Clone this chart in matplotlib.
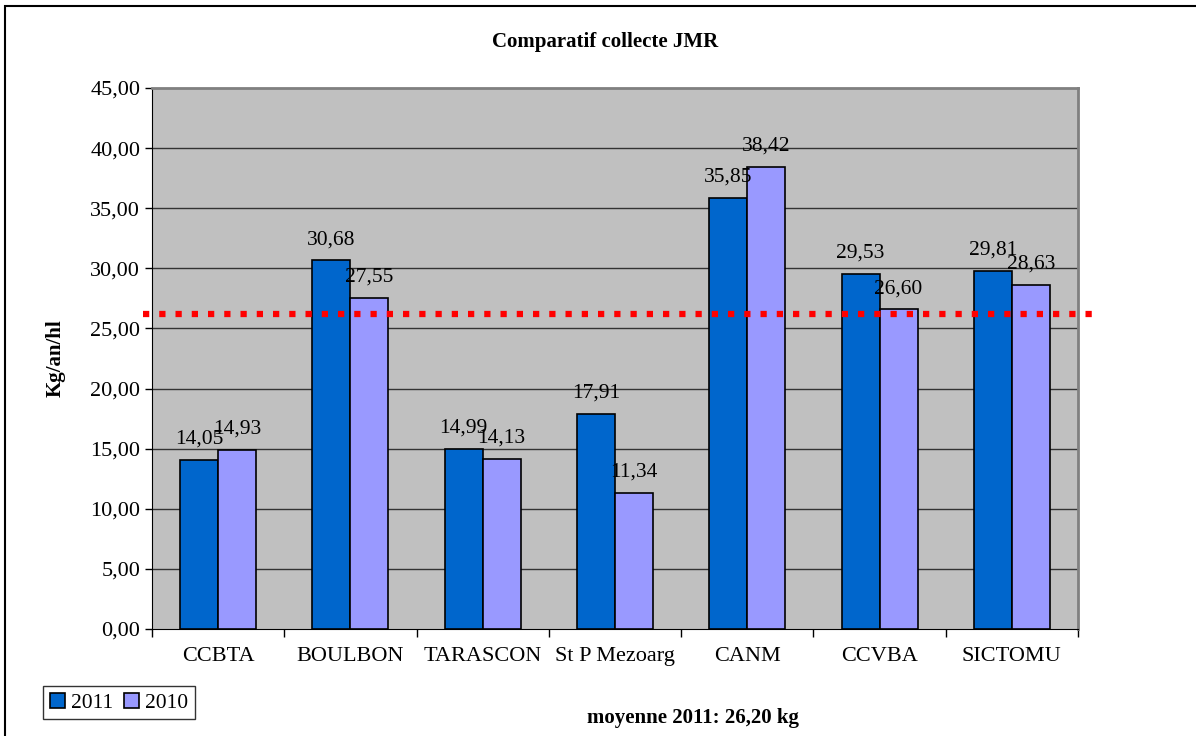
import matplotlib.pyplot as plt
import matplotlib.transforms as mtransforms
from matplotlib.patches import Rectangle
import numpy as np

plt.rcParams['font.family'] = ['Liberation Serif', 'DejaVu Serif']

# donnees du graphique
categories = ['CCBTA', 'BOULBON', 'TARASCON', 'St P Mezoarg', 'CANM', 'CCVBA', 'SICTOMU']
v2011 = [14.05, 30.68, 14.99, 17.91, 35.85, 29.53, 29.81]
v2010 = [14.93, 27.55, 14.13, 11.34, 38.42, 26.60, 28.63]
moyenne = 26.20
yticks = [0, 5, 10, 15, 20, 25, 30, 35, 40, 45]

fig = plt.figure(figsize=(11.96, 7.36), dpi=100)
ax = fig.add_axes([0.1271, 0.1454, 0.7742, 0.735])
ax.set_facecolor('#C0C0C0')

x = np.arange(len(categories))
w = 0.287
b1 = ax.bar(x - w/2, v2011, w, color='#0066CC', edgecolor='black', linewidth=1.2, label='2011', zorder=3)
b2 = ax.bar(x + w/2, v2010, w, color='#9999FF', edgecolor='black', linewidth=1.2, label='2010', zorder=3)

def fmt(v):
    return "{:.2f}".format(v).replace('.', ',')

for bars, vals in [(b1, v2011), (b2, v2010)]:
    for r, v in zip(bars, vals):
        ax.annotate(fmt(v), (r.get_x() + r.get_width()/2, v), xytext=(0, 8),
                    textcoords='offset points', ha='center', va='bottom', fontsize=15.5, zorder=5)

ax.set_xlim(-0.5, len(categories) - 0.5)
ax.set_ylim(0, 45)
ax.set_yticks(yticks)
ax.set_yticklabels([fmt(t) for t in yticks], fontsize=16)
for t in yticks[1:-1]:
    ax.axhline(t, color='#333333', linewidth=1, zorder=1)

ax.set_xticks(x)
ax.set_xticklabels(categories, fontsize=16)
ax.tick_params(axis='x', length=0, pad=13)
ax.set_xticks(np.arange(len(categories) + 1) - 0.5, minor=True)
ax.tick_params(axis='x', which='minor', length=6, direction='out', width=1)
ax.tick_params(axis='y', length=5, direction='out', width=1)

for s in ['top', 'right']:
    ax.spines[s].set_color('#808080')
    ax.spines[s].set_linewidth(2)
ax.spines['left'].set_color('black')
ax.spines['bottom'].set_color('black')

# ligne de la moyenne
trans = mtransforms.blended_transform_factory(ax.transAxes, ax.transData)
ax.plot([-0.0097, 1.0205], [moyenne, moyenne], transform=trans, color='#FF0000',
        linewidth=4.5, linestyle=(0, (1, 1.6)), dash_capstyle='butt', clip_on=False, zorder=4)

ax.set_ylabel('Kg/an/hl', fontsize=15, fontweight='bold', labelpad=18)
fig.text(0.506, 0.943, 'Comparatif collecte JMR', ha='center', va='center', fontsize=15, fontweight='bold')
fig.text(0.5795, 0.024, 'moyenne 2011: 26,20 kg', ha='center', va='center', fontsize=15, fontweight='bold')

leg = fig.legend(handles=[b1, b2], loc='lower left', bbox_to_anchor=(0.036, 0.023), ncol=2,
                 fontsize=15.5, frameon=True, fancybox=False, edgecolor='black', handlelength=0.7,
                 handleheight=0.7, handletextpad=0.3, columnspacing=0.5, borderpad=0.3, borderaxespad=0)
leg.get_frame().set_linewidth(1)

# cadre du graphique
fig.patches.append(Rectangle((5/1196, -0.1), 1.1, 1.1 - 6/736, transform=fig.transFigure,
                             fill=False, edgecolor='black', linewidth=1.5))

fig.savefig('out.png', dpi=100)
